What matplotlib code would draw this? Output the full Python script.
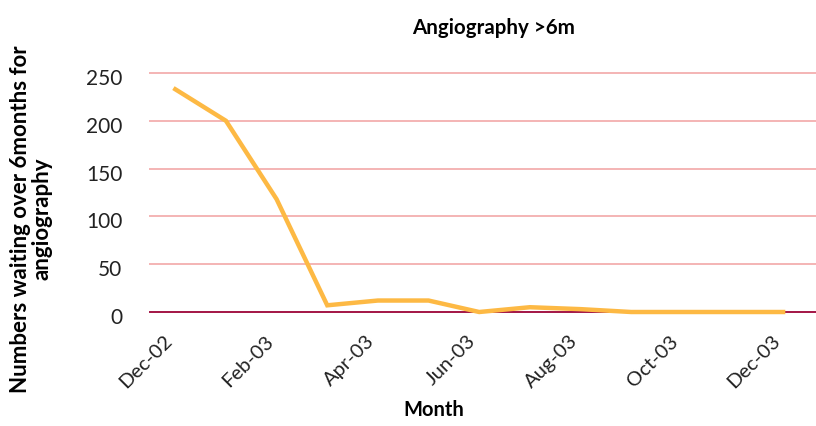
import matplotlib
matplotlib.use("Agg")
import matplotlib.pyplot as plt
from matplotlib.transforms import ScaledTranslation

months = ["Dec-02", "Jan-03", "Feb-03", "Mar-03", "Apr-03", "May-03", "Jun-03",
          "Jul-03", "Aug-03", "Sep-03", "Oct-03", "Nov-03", "Dec-03"]
waiting = [233, 200, 118, 7, 12, 12, 0, 5, 3, 0, 0, 0, 0]
yticks = [0, 50, 100, 150, 200, 250]

fig = plt.figure(figsize=(8.16, 4.26), dpi=100)
ax = fig.add_axes([0.1838, 0.2676, 0.8162, 0.561])

x = list(range(len(months)))
ax.plot(x, waiting, color="#fdb944", lw=3.2, solid_joinstyle="miter", zorder=3,
        clip_on=False)

ax.set_xlim(-0.5, len(months) - 0.35)
ax.set_ylim(0, 250)
ax.set_yticks(yticks)
ax.set_yticklabels([str(v) for v in yticks], fontfamily="Lato", fontsize=15, color="#222222")
ax.set_xticks(x[::2])
ax.set_xticklabels(months[::2], rotation=45, ha="right", va="center",
                   rotation_mode="anchor", fontfamily="Lato", fontsize=14.5,
                   color="#222222")
ax.tick_params(axis="y", length=0, pad=20)
ax.tick_params(axis="x", length=0, pad=19)

# nudge tick labels to sit like the original layout
for lab in ax.get_yticklabels():
    lab.set_transform(lab.get_transform() + ScaledTranslation(0, -4 / 100, fig.dpi_scale_trans))
for lab in ax.get_xticklabels():
    lab.set_transform(lab.get_transform() + ScaledTranslation(-6 / 100, 0, fig.dpi_scale_trans))

for v in yticks[1:]:
    ax.axhline(v, color="#f4b4b4", lw=1.4, zorder=1, clip_on=False)
ax.axhline(0, color="#a31545", lw=1.4, zorder=2, clip_on=False)

for s in ax.spines.values():
    s.set_visible(False)

fig.text(0.605, 0.934, "Angiography >6m", ha="center", va="center",
         fontfamily="Lato", fontweight="bold", fontsize=14.8)
fig.text(0.531, 0.037, "Month", ha="center", va="center",
         fontfamily="Lato", fontweight="bold", fontsize=14.5)
fig.text(0.038, 0.486, "Numbers waiting over 6months for\nangiography", ha="center",
         va="center", rotation=90, fontfamily="Lato", fontweight="bold",
         fontsize=16, linespacing=1.05)

fig.savefig("out.png", dpi=100)
